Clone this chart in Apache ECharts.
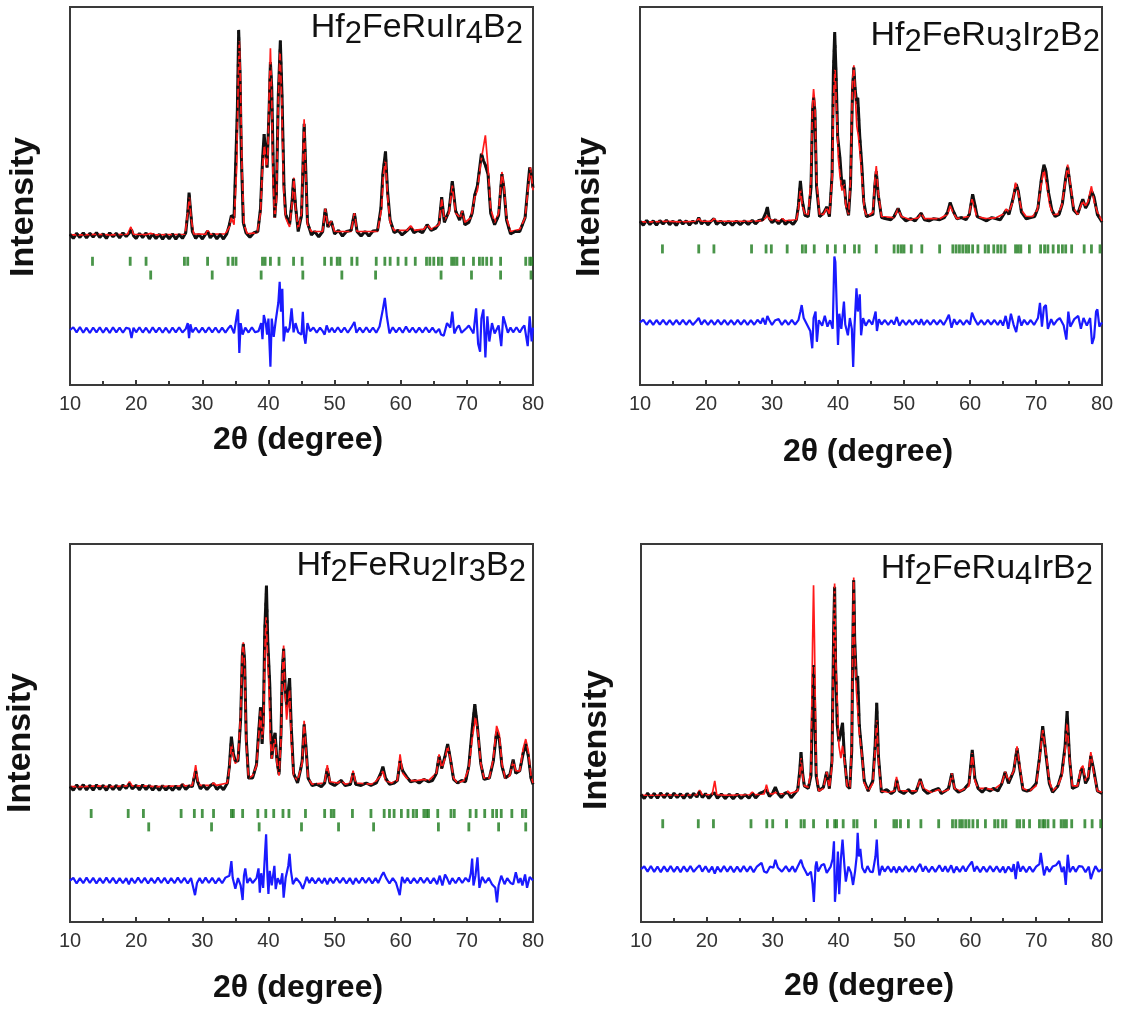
<!DOCTYPE html>
<html>
<head>
<meta charset="utf-8">
<script src="https://cdn.jsdelivr.net/npm/echarts@6/dist/echarts.min.js"></script>
<style>
  html, body { margin: 0; padding: 0; background: #ffffff; }
  #chart { width: 1125px; height: 1011px; }
</style>
</head>
<body>
<div id="chart"></div>
<script>
// 2θ axis ticks (degrees)
const twoThetaTicks = [10, 20, 30, 40, 50, 60, 70, 80];

// ---------- Hf2FeRuIr4B2 ----------
const obs1 = [[10,0.8],[10.5,-1],[11,1.2],[11.5,-0.6],[12,1.4],[12.5,-0.8],[13,1.2],[13.5,-0.4],[14,1.5],[14.5,-0.6],[15,1],[15.5,-1],[16,1.4],[16.5,-0.3],[17,1.2],[17.5,-0.8],[18,1.4],[18.5,-0.2],[19,1.5],[19.3,2.8],[19.6,0.2],[20,-1],[20.5,1.2],[21,-0.6],[21.5,1.4],[22,-1.2],[22.5,1],[23,-1.1],[23.5,0.8],[24,-1.3],[24.5,0.7],[25,-1.2],[25.5,0.9],[26,-1.3],[26.5,0.7],[27,-1],[27.5,1.5],[27.8,10],[28,19],[28.2,12],[28.5,2],[29,-1],[29.5,0.8],[30,-1.2],[30.5,0.9],[30.8,2.2],[31.2,-0.8],[31.7,1],[32.2,-1.2],[32.7,0.8],[33.2,-1.3],[33.7,1],[34.1,5],[34.4,9],[34.8,8],[35.1,36],[35.3,55],[35.5,90],[35.7,72],[35.9,36],[36.2,6],[36.6,1.5],[37.2,-0.5],[37.8,1.5],[38.4,2],[38.8,12],[39.1,33],[39.35,44.5],[39.6,36],[39.8,30],[40.1,55],[40.3,76],[40.5,65],[40.75,28],[40.95,8],[41.2,18],[41.5,62],[41.8,85.4],[42.05,62],[42.35,22],[42.6,9.5],[43.2,5],[43.6,16],[43.8,25],[44.1,13],[44.5,2],[45,9],[45.2,28],[45.4,49],[45.6,33],[45.9,6],[46.5,0.5],[47,2],[47.6,-0.3],[48.2,2],[48.6,12],[49,4],[49.5,6.5],[50,1],[50.6,2.5],[51.2,0],[51.8,2],[52.5,2.5],[53,10],[53.4,2],[54,0],[54.6,2],[55.2,0],[55.8,2.2],[56.5,2.5],[57,12],[57.3,27],[57.7,37],[58,20],[58.4,7],[59,1.5],[59.6,2.5],[60.2,0.5],[61,2.5],[61.5,4],[62,1.5],[62.6,2.5],[63.3,1.5],[64,5],[64.6,2.5],[65.3,3.5],[65.8,5.5],[66.2,17],[66.6,6],[67.3,11],[67.8,24],[68.3,11],[68.9,7],[69.3,11],[69.7,5],[70.3,6],[70.8,10],[71.2,18],[71.6,22],[72.2,36],[72.5,33],[72.8,31],[73.2,27],[73.6,10],[74.2,5],[74.8,9],[75.3,27],[75.6,21],[76,7],[76.6,1],[77.3,2],[78,2],[78.8,8],[79.3,24],[79.5,30],[79.8,26],[80,21]];
const calc1 = [[10,0.5],[12,0.5],[14,0.8],[16,0.5],[18.7,0.8],[19.2,4],[19.6,0.8],[21.5,0.6],[22.2,1.2],[23,0.5],[27.4,0.8],[27.8,10],[28.05,17],[28.3,8],[28.7,1],[30.5,0.8],[30.8,2.5],[31.2,0.8],[33.5,1],[34.1,4],[34.4,8],[34.8,5],[35.2,30],[35.45,70],[35.6,85],[35.75,70],[36,30],[36.3,5],[36.8,1],[38.3,1.5],[38.8,10],[39.1,30],[39.4,40],[39.7,30],[39.9,35],[40.1,60],[40.3,82],[40.5,60],[40.7,25],[40.95,8],[41.2,15],[41.5,60],[41.75,81],[42,60],[42.3,20],[42.6,8],[43.2,4],[43.6,15],[43.85,25.5],[44.1,12],[44.5,3],[45,10],[45.2,30],[45.4,51],[45.6,30],[45.9,5],[46.5,2],[48.2,2],[48.6,12],[49,4],[49.5,6.5],[50,2],[52.5,2],[53,10],[53.4,2],[56.5,2],[57.1,12],[57.4,27],[57.7,33],[58,18],[58.4,6],[59,2.5],[61,2.5],[61.5,4.5],[62,2.5],[63.5,3],[64,5],[64.6,3],[65.8,5],[66.2,16],[66.6,7],[67.3,10],[67.8,22],[68.3,10],[69,8],[69.3,11],[69.7,6],[70.6,8],[71.2,17],[71.6,20],[72.1,32],[72.8,44],[73.2,30],[73.6,12],[74.2,6],[74.8,10],[75.3,28],[75.6,22],[76,8],[76.6,2],[78,3],[78.8,8],[79.3,22],[79.6,30],[80,20]];
const diff1 = [[10,0],[10.5,1.2],[11,-1],[11.5,1.3],[12,-1.2],[12.5,1],[13,-1.3],[13.5,1.1],[14,-1],[14.5,1.2],[15,-1.2],[15.5,1],[16,-1.3],[16.5,1.2],[17,-1],[17.5,1.1],[18,-1.2],[18.5,1],[19,0.5],[19.3,-3.5],[19.6,1],[20,-1],[20.5,1.2],[21,-1.1],[21.5,1],[22,-1.3],[22.5,1.2],[23,-1],[23.5,1.1],[24,-1.2],[24.5,1],[25,-1.3],[25.5,1.1],[26,-1],[26.5,1.2],[27,-1.1],[27.5,0.5],[27.8,3],[28,-3.5],[28.2,2.5],[28.5,-1],[29,1.1],[29.5,-1.2],[30,1],[30.5,-1.1],[31,1.2],[31.5,-1],[32,1.1],[32.5,-1.2],[33,1],[33.5,-1.1],[34,1],[34.3,2],[34.8,-1.5],[35.2,6],[35.4,9],[35.6,-10],[35.8,3],[36.1,-2],[36.5,1],[37,-1.1],[37.5,1.2],[38,-1],[38.5,-0.5],[38.9,3],[39.1,-4],[39.3,6.5],[39.6,3],[39.8,-2],[40,5],[40.3,-16],[40.5,5],[40.8,-3],[41.1,4],[41.5,12],[41.7,21],[41.9,8],[42.1,18],[42.3,-5],[42.6,1.5],[42.9,-1],[43.2,1],[43.5,9.5],[43.8,-1],[44.1,3],[44.5,-1],[45,-2],[45.2,8],[45.4,-3],[45.6,-6],[45.9,3],[46.3,-0.5],[46.8,1.1],[47.3,-1.1],[47.8,1],[48.2,-0.5],[48.5,-2],[48.8,2],[49.2,-1],[49.6,1],[50,-1.1],[50.5,1.2],[51,-1],[51.5,1.1],[52,-1.2],[52.5,1],[53,3.5],[53.3,-1.2],[53.8,1],[54.3,-1.1],[54.8,1.2],[55.3,-1],[55.8,1.1],[56.3,-1.2],[56.8,1.5],[57.3,9],[57.6,14],[57.9,6],[58.3,-1.5],[58.8,1.2],[59.3,-1],[59.8,1.1],[60.3,-1.2],[60.8,1.5],[61.3,-1],[61.8,1.1],[62.3,-1.2],[62.8,1],[63.3,-1.1],[63.8,1.2],[64.3,-1],[64.8,1],[65.3,-1.2],[65.8,0.5],[66.1,-2],[66.5,-2.5],[67,3],[67.5,1],[67.8,8],[68.1,-1.5],[68.5,1],[68.8,2],[69.2,-1.2],[69.5,-1.5],[70,1],[70.3,2],[71,-1.5],[71.4,9.5],[71.7,-6],[72,-9.5],[72.2,5],[72.5,9],[72.8,-12],[73.1,6],[73.4,-5],[73.8,3],[74.2,-1.5],[74.8,2],[75.2,-7],[75.5,6],[75.8,3],[76.2,-1.2],[76.6,1.1],[77,-1],[77.5,1.2],[78,-1.1],[78.4,1],[78.7,2],[79.2,-7],[79.5,6],[79.8,-5],[80,1]];
const bragg1a = [13.4,19.1,21.5,27.3,27.8,30.8,33.9,34.6,35.1,39.1,39.5,40.3,41.6,43.8,45.1,48.5,49.5,50.4,50.8,52.6,53.4,56.3,57.6,58.4,59.6,60.8,62.2,63.9,64.4,65.0,65.7,66.2,67.7,68.1,68.5,69.5,71.0,71.9,72.4,73.0,73.7,75.1,78.9,79.5,79.8];
const bragg1b = [22.2,31.5,38.9,45.2,51.1,56.2,66.1,70.7,75.1,79.7];
const formula1 = [['Hf','2'],['FeRuIr','4'],['B','2']];

// ---------- Hf2FeRu3Ir2B2 ----------
const obs2 = [[10,0.8],[10.5,-1],[11,1.2],[11.5,-0.7],[12,1],[12.5,-1],[13,1.1],[13.5,-0.5],[14,1.3],[14.5,-0.8],[15,0.9],[15.5,-1.1],[16,1.2],[16.5,-0.4],[17,1],[17.5,-0.9],[18,0.9],[18.5,-0.3],[18.9,2.5],[19.3,-0.4],[19.8,1],[20.3,-0.8],[20.8,0.9],[21.2,2],[21.6,-0.6],[22.2,0.9],[22.8,-0.9],[23.4,0.8],[24,-1],[24.6,0.9],[25.2,-0.8],[25.8,1],[26.4,-0.7],[27,1.3],[27.5,-0.4],[28,1.2],[28.6,1.5],[29.1,5],[29.3,7.4],[29.6,2],[30,0.2],[30.5,1.5],[31,-0.4],[31.6,1.8],[32,-0.6],[32.6,1],[33.2,-0.7],[33.7,1.5],[34,8],[34.3,19.5],[34.6,10],[35,3.5],[35.5,3],[35.9,16],[36.15,52],[36.3,58],[36.5,52],[36.75,17],[37.2,3],[37.8,4.5],[38.3,7.4],[38.7,3],[39.1,22],[39.3,70],[39.5,88.4],[39.7,70],[39.95,40],[40.3,30],[40.6,17],[40.9,20],[41.2,9],[41.6,3.5],[41.9,18],[42.2,62],[42.4,72],[42.6,62],[42.85,55],[43,58],[43.3,40],[43.6,27],[43.9,10],[44.3,3],[45.3,4],[45.6,18],[45.8,24],[46.1,13],[46.6,2.5],[47.3,2],[48,1.5],[48.5,3],[49.1,6.8],[49.6,3],[50.3,1],[51,2],[51.7,1],[52.2,3],[52.6,4.5],[53.1,1.5],[53.8,1],[54.5,2],[55.4,1.5],[56.1,2.5],[56.6,5],[57,9.4],[57.4,6],[58,2],[58.7,2.5],[59.4,1.5],[59.9,4],[60.4,13.3],[60.7,9],[61.1,3],[61.8,2],[62.5,1],[63.3,2.5],[64,2],[64.6,1.5],[65.1,4],[65.5,6],[65.9,4],[66.5,11],[67,18],[67.3,15],[67.8,5],[68.5,2],[69.2,2.5],[69.8,3],[70.3,7],[70.8,20],[71.2,27],[71.5,24],[71.9,14],[72.4,6],[72.9,3],[73.5,4],[74,9],[74.5,21],[74.8,26],[75.2,17],[75.7,6],[76.3,4],[76.9,9.5],[77.1,11],[77.5,7],[77.9,9],[78.4,15],[78.8,12],[79.3,4],[79.7,2],[80,0.5]];
const calc2 = [[10,0.5],[12,0.5],[14,0.8],[16,0.5],[18.5,0.8],[18.9,2],[19.3,0.8],[20.8,0.8],[21.2,2],[21.6,0.8],[26.7,0.8],[27,1.5],[27.3,0.8],[28.6,1.2],[29.1,2.5],[29.3,3.5],[29.7,1.5],[31.2,1],[31.6,2],[32,1],[33.7,1.5],[34,6],[34.3,15.6],[34.6,8],[35,4],[35.5,4],[35.9,20],[36.15,55],[36.3,62],[36.5,55],[36.75,20],[37.2,4],[37.8,4],[38.3,7],[38.7,4],[39.1,20],[39.35,60],[39.55,71],[39.75,55],[40.05,30],[40.3,22],[40.6,15],[40.9,18],[41.2,8],[41.6,4],[41.9,20],[42.2,65],[42.4,73],[42.6,60],[42.85,45],[43.1,40],[43.4,30],[43.7,18],[44,6],[44.4,3],[45.3,5],[45.6,20],[45.8,26.4],[46.1,14],[46.6,3],[48.5,2.5],[49.1,6.5],[49.6,3],[51,1.5],[52.2,2.5],[52.6,4.5],[53.1,2],[55.4,2],[56.6,4],[57,8],[57.4,5],[58,2],[59.8,3],[60.3,11],[60.6,8],[61,3],[62.5,2],[64,2.5],[65,4],[65.5,6.5],[65.9,5],[66.5,10],[66.9,18.7],[67.3,14],[67.8,6],[68.5,3],[69.5,3],[70.2,6],[70.8,18],[71.2,25],[71.6,18],[72.1,8],[72.6,4],[73.3,4],[73.9,8],[74.5,20],[74.8,27],[75.2,18],[75.7,7],[76.3,4],[76.8,8],[77.1,10],[77.5,8],[77.9,10],[78.4,17],[78.8,10],[79.3,5],[80,1]];
const diff2 = [[10,0],[10.5,1.2],[11,-1.1],[11.5,1],[12,-1.2],[12.5,1.1],[13,-1],[13.5,1.2],[14,-1.1],[14.5,1],[15,-1.2],[15.5,1.1],[16,-1],[16.5,1.2],[17,-1.1],[17.5,1],[18,-1.2],[18.5,0.5],[18.9,2],[19.3,-1],[19.8,1.1],[20.3,-1.2],[20.8,1],[21.3,-1.1],[21.8,1.2],[22.3,-1],[22.8,1.1],[23.3,-1.2],[23.8,1],[24.3,-1.1],[24.8,1.2],[25.3,-1],[25.8,1.1],[26.3,-1.2],[26.8,1],[27.3,-1.1],[27.8,1.2],[28.3,-0.5],[28.6,2],[29,-1],[29.3,3],[29.6,1],[30,-1.2],[30.5,1],[31,1.5],[31.5,-1.2],[32,1],[32.5,-1.1],[33,1.2],[33.5,-1],[34,1],[34.3,5],[34.5,8],[34.8,2],[35.3,-1],[35.8,-4],[36.1,-12],[36.3,2],[36.6,5],[36.8,-9],[37.1,1],[37.6,-1.5],[38,3],[38.4,-2],[38.8,1],[39.2,-3],[39.45,30.5],[39.6,28],[39.8,8],[40,-10.5],[40.2,4],[40.5,-3],[40.9,9.6],[41.1,-1],[41.5,-6],[41.8,2],[42.1,-3],[42.3,-20.6],[42.5,-2],[42.8,15.8],[43,5],[43.3,13],[43.5,-6],[43.8,2],[44.2,-1.5],[44.7,1.2],[45.2,-1],[45.5,-1.5],[45.7,5],[45.9,-4],[46.2,1.5],[46.6,-1],[47.1,1.1],[47.6,-1.2],[48.1,1],[48.5,-1],[48.9,2.5],[49.3,-1.5],[49.8,1.1],[50.3,-1.2],[50.8,1],[51.3,-1.1],[51.8,1.2],[52.3,-1],[52.6,1.5],[53,-1.2],[53.5,1],[54,-1.1],[54.5,1.2],[55,-1],[55.5,1.1],[56,-1.2],[56.4,1],[56.8,3.5],[57.2,-2.5],[57.6,1.5],[58,-1],[58.5,1.1],[59,-1.2],[59.5,1],[60,-1],[60.3,4.5],[60.7,1.5],[61.2,-1.2],[61.7,1],[62.2,-1.1],[62.7,1.2],[63.2,-1],[63.7,1.1],[64.2,-1.2],[64.6,1],[65,-1.5],[65.4,3],[65.8,-3],[66.2,4],[66.6,-1],[67,-4.5],[67.4,3],[67.8,-1.5],[68.2,1.2],[68.7,-1],[69.2,1.1],[69.7,-1.2],[70.3,2],[70.6,9],[70.9,-2],[71.2,7],[71.5,8],[71.8,-3],[72.3,1.5],[72.7,-1.2],[73.2,1],[73.6,2],[74.2,-1.5],[74.6,-8],[74.9,5],[75.2,-2],[75.8,1.5],[76.4,3],[76.8,-3],[77.2,2],[77.7,-1.5],[78.2,2],[78.5,-10],[78.8,-7],[79.1,5],[79.3,6],[79.6,-2],[80,0]];
const bragg2a = [13.4,18.9,21.2,26.9,29.1,29.9,32.3,34.6,35.1,36.4,38.4,39.6,41.0,42.5,43.2,45.8,48.5,49.1,49.6,50.0,51.1,52.7,55.4,57.4,57.9,58.4,58.9,59.4,59.8,60.4,61.2,62.3,62.8,63.6,64.2,64.7,65.3,66.9,67.3,67.7,69.0,70.7,71.3,71.8,72.6,73.4,74.0,74.5,75.4,77.3,78.4,79.7];
const formula2 = [['Hf','2'],['FeRu','3'],['Ir','2'],['B','2']];

// ---------- Hf2FeRu2Ir3B2 ----------
const obs3 = [[10,0.6],[10.5,-1],[11,1.2],[11.5,-0.7],[12,1.3],[12.5,-0.8],[13,1],[13.5,-0.9],[14,1.2],[14.5,-0.6],[15,1],[15.5,-1],[16,1.1],[16.5,-0.7],[17,1],[17.5,-0.8],[18,1.1],[18.5,-0.2],[19,1.8],[19.4,-0.4],[20,1],[20.5,-0.8],[21,1.2],[21.5,-0.7],[22,1],[22.5,-0.9],[23,0.8],[23.5,-1],[24,0.9],[24.5,-0.9],[25,0.7],[25.5,-1],[26,0.8],[26.5,-0.7],[27,1.4],[27.5,-0.6],[28,0.8],[28.5,0.5],[28.75,4],[29,7],[29.3,2.5],[29.7,-0.4],[30.2,1],[30.7,-0.7],[31.2,0.9],[31.7,1.8],[32.2,-0.6],[32.7,0.8],[33.2,-0.8],[33.8,2],[34.1,9],[34.4,21],[34.7,14],[35,11],[35.4,11],[35.8,28],[36.05,54],[36.2,59],[36.4,52],[36.65,20],[37,4],[37.6,4],[38.2,9.6],[38.5,22],[38.8,33],[39.05,18],[39.25,30],[39.45,65],[39.7,83],[39.9,60],[40.2,42.6],[40.5,12],[40.8,20],[41,22.6],[41.3,11],[41.6,5.5],[41.9,22],[42.1,48],[42.3,57],[42.55,40],[42.8,33],[43,40],[43.2,45],[43.45,25],[43.8,6],[44.4,2],[44.9,8],[45.1,11],[45.4,26],[45.7,16],[46,4],[46.6,1],[47.3,1.5],[48,0.5],[48.5,2],[48.9,8],[49.3,2],[50,1],[50.5,2],[51,3],[51.6,1],[52.4,1.5],[52.8,6],[53.2,1.5],[54,1],[54.8,2],[55.5,1],[56.3,2],[57,6],[57.3,8.7],[57.7,4],[58.3,1.5],[59,2],[59.5,3],[59.9,11],[60.3,7],[60.9,4.5],[61.5,2.5],[62.2,3],[62.8,2],[63.5,3.5],[64.2,2.5],[64.8,3],[65.4,6],[65.8,13],[66.2,8],[66.7,13],[67.1,18],[67.5,12],[68,3.5],[68.6,2],[69.2,3],[69.8,2.5],[70.3,9],[70.8,24],[71.2,34.3],[71.6,25],[72.1,10],[72.6,3.5],[73.4,4],[74,11],[74.5,23],[74.9,20],[75.3,9],[75.8,4],[76.5,5.5],[77,11.6],[77.4,6],[78,7],[78.5,14],[78.9,18],[79.3,13],[79.7,4],[80,1.5]];
const calc3 = [[10,0.5],[12,0.5],[14,0.8],[16,0.5],[18.6,0.8],[19,2.5],[19.4,0.8],[21,0.8],[23,0.5],[26.6,0.8],[27,1.5],[27.4,0.8],[28.5,1],[28.75,5],[29,9.3],[29.3,3],[29.7,1],[31.3,1],[31.7,2],[32.1,1],[33.8,2],[34.1,8],[34.4,18],[34.7,13],[35,10],[35.4,12],[35.8,30],[36.05,55],[36.2,59.7],[36.4,50],[36.65,18],[37,4],[37.6,5],[38.2,9],[38.5,20],[38.8,31.6],[39.05,20],[39.25,25],[39.45,55],[39.65,70],[39.85,55],[40.1,40],[40.3,20],[40.5,12],[40.8,18],[41,20],[41.3,10],[41.6,5],[41.9,20],[42.1,45],[42.3,58.4],[42.5,40],[42.75,28],[43,35],[43.2,40],[43.45,20],[43.8,5],[44.4,3],[44.9,8],[45.1,10],[45.4,27.5],[45.7,15],[46,4],[46.6,1.5],[48.5,2],[48.9,9.3],[49.3,2.5],[50.5,2],[51,3],[51.6,1.5],[52.4,2],[52.8,7],[53.2,2],[55.5,1.5],[56,2],[57,5],[57.3,7],[57.7,3],[58.6,2],[59.5,3],[59.9,13.7],[60.3,6],[60.9,4],[61.5,3],[62.5,3],[63.5,3.5],[64.2,3],[65.4,6],[65.8,13.7],[66.2,8],[66.7,12],[67.1,17],[67.5,12],[68,4],[68.6,2],[69.6,3],[70.3,8],[70.8,20],[71.3,29],[71.7,22],[72.1,10],[72.6,4],[73.4,4],[74,12],[74.5,25.4],[74.9,22],[75.3,10],[75.8,4],[76.5,5],[77,11],[77.4,7],[78,7],[78.5,16],[78.9,20],[79.3,15],[79.7,5],[80,2]];
const diff3 = [[10,0],[10.5,1.1],[11,-1.2],[11.5,1],[12,-1.1],[12.5,1.2],[13,-1],[13.5,1.1],[14,-1.2],[14.5,1],[15,-1.1],[15.5,1.2],[16,-1],[16.5,1.1],[17,-1.2],[17.5,1],[18,-1.1],[18.5,1],[18.9,-1.5],[19.3,1],[19.8,-1.1],[20.3,1.2],[20.8,-1],[21.3,1.1],[21.8,-1.2],[22.3,1],[22.8,-1.1],[23.3,1.2],[23.8,-1],[24.3,1.1],[24.8,-1.2],[25.3,1],[25.8,-1.1],[26.3,1.2],[26.8,-1],[27.3,1.1],[27.8,-1.2],[28.3,1],[28.6,1.5],[28.9,-6],[29.2,-1],[29.6,1],[30,-1.1],[30.5,1.2],[31,-1],[31.5,1.1],[32,-1.2],[32.5,1],[33,-1.1],[33.5,1.2],[34.1,2],[34.4,8],[34.6,1],[35,-3.4],[35.4,1],[35.8,-2],[36.1,-8],[36.3,2],[36.5,5],[36.8,-1],[37.2,1],[37.6,-1],[38.2,1],[38.5,5],[38.7,-5],[38.9,3],[39.2,-3],[39.5,12],[39.65,19],[39.85,2],[40,-5.5],[40.2,4],[40.5,-2],[40.9,6],[41.1,-3.5],[41.4,1],[41.8,-1.5],[42.1,3],[42.3,-7],[42.6,1],[43,6],[43.2,11],[43.4,4],[43.7,-1.5],[44.2,1],[44.8,-1],[45.2,-3.4],[45.5,-1],[45.8,1.5],[46.2,-1],[46.6,1.1],[47.1,-1.2],[47.6,1],[48.1,-1.1],[48.5,1],[48.9,-1.5],[49.3,1],[49.8,-1.1],[50.3,1.2],[50.8,-1],[51.3,1.1],[51.8,-1.2],[52.3,1],[52.8,-1.5],[53.2,1],[53.7,-1.1],[54.2,1.2],[54.7,-1],[55.2,1.1],[55.7,-1.2],[56.2,1],[56.6,-1],[57.1,2],[57.4,3.4],[57.8,1],[58.3,-1.2],[58.8,1],[59.3,-1],[59.6,-1.5],[59.85,-6],[60.2,1.5],[60.6,-1],[61,1.1],[61.5,-1.2],[62,1],[62.5,-1.1],[63,1.2],[63.5,-1],[64,1.1],[64.5,-1.2],[65,1],[65.5,-1.5],[65.9,2],[66.3,-2],[66.7,2.5],[67,1],[67.4,-1.5],[67.8,1],[68.3,-1.1],[68.8,1.2],[69.3,-1],[69.8,1.1],[70.3,-0.5],[70.6,3],[70.8,9],[71,-2],[71.3,2],[71.6,9.5],[71.9,-3],[72.3,1.5],[72.8,-1],[73.3,1.1],[73.8,-1.5],[74.3,-3],[74.55,-9],[74.8,-2],[75.2,2],[75.7,-1.5],[76.1,1],[76.6,-1],[77,-1.5],[77.4,3.4],[77.8,-1],[78.1,1],[78.4,-2],[78.8,2.5],[79.1,-3],[79.5,1.5],[80,0]];
const bragg3a = [13.2,18.8,21.1,26.8,28.8,30.0,31.7,34.4,34.7,36.1,38.4,39.6,40.8,42.2,43.1,45.6,48.5,49.5,49.9,52.7,55.5,57.5,58.3,59.0,60.1,61.1,61.9,62.4,63.5,63.9,64.2,65.6,67.6,68.1,70.5,71.4,72.7,73.9,74.5,75.2,76.8,78.4,78.9];
const bragg3b = [21.9,31.4,38.6,45.0,50.6,55.9,65.7,70.3,74.8,78.9];
const formula3 = [['Hf','2'],['FeRu','2'],['Ir','3'],['B','2']];

// ---------- Hf2FeRu4IrB2 ----------
const obs4 = [[10,0.6],[10.5,-1],[11,1.1],[11.5,-0.8],[12,1],[12.5,-0.9],[13,1.2],[13.5,-0.7],[14,1],[14.5,-0.9],[15,1.1],[15.5,-0.6],[16,0.9],[16.5,-1],[17,1],[17.5,-0.7],[18,1],[18.5,-0.4],[18.9,1.8],[19.3,-0.6],[19.8,0.9],[20.3,-0.9],[20.8,0.8],[21.2,1.2],[21.6,-0.9],[22.2,0.8],[22.8,-1],[23.4,0.7],[24,-1.1],[24.6,0.8],[25.2,-1],[25.8,0.6],[26.4,-0.9],[26.9,1.2],[27.4,-0.8],[28,1],[28.5,1.5],[29.05,2.5],[29.5,-0.2],[30,1.2],[30.4,3.5],[30.8,1],[31.3,-0.6],[31.8,1],[32.3,1.5],[32.8,-0.7],[33.3,0.9],[33.8,2.5],[34.1,10],[34.3,17.4],[34.55,9],[34.8,4],[35.4,3],[35.8,8],[36.05,35],[36.2,52],[36.35,38],[36.6,8],[37,2],[37.7,3.5],[38.2,9.6],[38.6,3],[39,14],[39.25,65],[39.4,83],[39.55,52],[39.8,28],[40.05,21.7],[40.35,22],[40.6,29],[40.9,15],[41.3,4],[41.7,3],[42,18],[42.15,58],[42.3,85.6],[42.45,62],[42.7,46],[42.9,47.6],[43.15,28],[43.6,15],[43.9,6],[44.5,2],[45.2,6],[45.55,20],[45.8,37],[46.05,16],[46.5,1.5],[47.3,2.5],[48,1],[48.5,2],[48.8,6.5],[49.2,2],[49.9,1],[50.6,2.5],[51.2,1],[51.8,2],[52.4,6.7],[52.9,2.5],[53.5,1],[54.2,2],[55.2,3],[55.6,1],[56.2,2],[56.7,3],[57.2,9],[57.6,3],[58.2,1.5],[59,2.5],[59.8,5],[60.3,18.3],[60.7,7],[61.2,3],[61.8,1.5],[62.3,3],[63,2],[63.5,3],[64.2,2],[64.8,5],[65.3,9.6],[65.8,5],[66.6,10],[67.1,19],[67.5,11],[68,2.5],[68.6,2],[69.2,2.5],[70,5],[70.5,15],[71,27.7],[71.5,16],[72,5],[72.5,1.5],[73.3,4],[73.9,9],[74.4,20],[74.7,33.7],[75.1,14],[75.5,3],[76.3,4],[76.8,10],[77.1,11],[77.5,5],[77.9,7],[78.3,16],[78.7,11],[79.3,2],[80,1]];
const calc4 = [[10,0.3],[12,0.3],[14,0.5],[16,0.3],[18.5,0.5],[18.9,2.3],[19.3,0.5],[20.8,0.5],[21.2,6],[21.5,0.5],[23,0.3],[26.5,0.5],[26.9,1.5],[27.3,0.5],[28.7,0.8],[29.05,4.5],[29.4,1],[30,0.8],[30.4,1.5],[30.8,0.8],[32,1],[32.3,2],[32.6,1],[33.8,2],[34.1,8],[34.3,15],[34.55,8],[34.8,4],[35.4,3.5],[35.8,10],[36.05,60],[36.2,83.6],[36.35,60],[36.6,10],[37,2],[37.7,3],[38.2,9.6],[38.6,3],[39,12],[39.25,60],[39.4,84.3],[39.55,55],[39.8,37.5],[40.05,20],[40.35,15],[40.6,20],[40.9,14],[41.3,4],[41.7,3],[42,20],[42.15,60],[42.3,86.7],[42.45,60],[42.7,42],[42.9,41.6],[43.15,25],[43.6,15],[43.9,5],[44.5,2],[45.2,5],[45.55,18],[45.8,30],[46.05,14],[46.5,2],[47.5,1.5],[48.5,2],[48.8,7.6],[49.2,2],[50.6,2],[51.8,2],[52.4,6.7],[52.9,3],[54,1.5],[55.2,2.5],[55.6,1.5],[56.7,2.5],[57.2,9],[57.6,3],[58.5,2],[59.8,4],[60.3,17],[60.7,6],[61.2,3],[62.3,3],[63.5,2.5],[64.8,5],[65.3,9.6],[65.8,6],[66.6,10],[67.1,19.7],[67.5,12],[68,3],[69,2],[70,4],[70.5,14],[71,26.3],[71.5,17],[72,6],[72.5,2],[73.3,4],[73.9,8],[74.4,18],[74.7,29],[75.1,14],[75.5,4],[76.3,4],[76.8,11],[77.1,12],[77.5,6],[77.9,8],[78.3,17.4],[78.7,10],[79.3,2],[80,1.5]];
const diff4 = [[10,0],[10.5,1.1],[11,-1],[11.5,1.2],[12,-1.1],[12.5,1],[13,-1.2],[13.5,1.1],[14,-1],[14.5,1.2],[15,-1.1],[15.5,1],[16,-1.2],[16.5,1.1],[17,-1],[17.5,1.2],[18,-1.1],[18.5,0.5],[18.9,1.5],[19.3,-1],[19.8,1.1],[20.3,-1.2],[20.8,1],[21.2,-1.8],[21.6,1],[22.1,-1.1],[22.6,1.2],[23.1,-1],[23.6,1.1],[24.1,-1.2],[24.6,1],[25.1,-1.1],[25.6,1.2],[26.1,-1],[26.6,1.1],[27.1,-1.2],[27.6,1],[28.3,2.5],[28.7,-1],[29.1,-1.5],[29.6,1],[30.1,0.5],[30.4,3.7],[30.8,0.5],[31.4,-1],[32,1.2],[32.5,-1],[33,1.1],[33.4,-1.2],[33.8,1],[34.3,3.7],[34.6,1],[35,-1],[35.3,-2.5],[35.8,-1],[36.05,-6],[36.25,-13],[36.5,1],[36.65,3],[36.9,-1],[37.4,1.5],[37.8,2],[38.2,-1.5],[38.8,1],[39.1,4],[39.3,11],[39.45,-13],[39.7,-4],[39.9,7],[40.1,-10],[40.35,4],[40.6,11.7],[40.9,1],[41.1,-5],[41.5,1],[41.9,-1.5],[42.2,-6.3],[42.5,-1],[42.75,5],[42.9,14.4],[43.1,5],[43.3,8],[43.6,0.5],[44,-1.5],[44.4,1.2],[44.8,-1],[45.2,-1.2],[45.6,5],[45.8,11.7],[46,2],[46.2,-2.5],[46.6,1.2],[47,-1],[47.5,1.1],[48,-1.2],[48.4,1],[48.8,-1.5],[49.2,1],[49.7,-1.1],[50.2,1.2],[50.7,-1],[51.2,1.1],[51.7,-1.2],[52.1,1],[52.4,2],[52.8,-1],[53.2,1.1],[53.7,-1.2],[54.2,1],[54.7,-1.1],[55.3,1.5],[55.8,-1],[56.2,1.1],[56.6,-1.2],[57.1,1.5],[57.5,-1.5],[57.9,1],[58.4,-1.1],[58.9,1.2],[59.3,-1],[59.7,1],[60.25,3],[60.6,-1],[61,1.1],[61.5,-1.2],[62,1],[62.5,-1.1],[63,1.2],[63.5,-1],[64,1.1],[64.5,-1.2],[65,1],[65.3,-1.5],[65.8,1],[66.3,-1],[66.6,2],[66.9,-4],[67.2,3],[67.6,-1],[68,1.1],[68.5,-1.2],[69,1],[69.5,-1.1],[70,1],[70.5,2],[70.7,6.4],[71,1],[71.2,-2.5],[71.6,1],[72,-1.1],[72.5,1],[73,1.5],[73.5,3.2],[73.9,-1.2],[74.2,1],[74.5,-6.3],[74.8,5.7],[75.1,-1.2],[75.6,1],[76,-1.1],[76.5,1.2],[77,1],[77.5,-1.2],[78,1],[78.3,-4],[78.6,-1.5],[79,1.2],[79.5,-1],[80,0]];
const bragg4a = [13.3,18.7,21.0,26.7,29.1,30.0,32.1,34.3,34.8,36.2,38.3,39.4,39.7,40.7,42.3,42.8,45.6,48.4,48.8,49.4,50.6,52.5,55.2,57.3,57.8,58.4,58.8,59.3,59.8,60.4,61.1,62.3,63.7,64.2,64.9,65.4,67.1,67.5,68.1,69.0,70.5,71.0,71.3,71.8,72.7,73.8,74.2,74.6,75.4,77.4,78.5,79.8];
const formula4 = [['Hf','2'],['FeRu','4'],['IrB','2']];

// ---------- layout ----------
const FONT = '"Liberation Sans", Arial, Helvetica, sans-serif';
const FRAME = '#3a3a3a';

const panels = [
  { obs: obs1, calc: calc1, diff: diff1, bragg: [bragg1a, bragg1b], formula: formula1,
    grid: { left: 70, top: 7, width: 463, height: 378 }, yMin: -65, diffOffset: -41, braggRows: [-11, -17],
    titleRight: 602, titleTop: 11, yName: [24, 207], xName: [298, 440] },
  { obs: obs2, calc: calc2, diff: diff2, bragg: [bragg2a], formula: formula2,
    grid: { left: 640, top: 7, width: 462, height: 378 }, yMin: -75, diffOffset: -46, braggRows: [-12],
    titleRight: 25, titleTop: 19, yName: [590, 207], xName: [868, 452] },
  { obs: obs3, calc: calc3, diff: diff3, bragg: [bragg3a, bragg3b], formula: formula3,
    grid: { left: 70, top: 544, width: 463, height: 378 }, yMin: -55, diffOffset: -38, braggRows: [-10.5, -16],
    titleRight: 599, titleTop: 549, yName: [21, 743], xName: [298, 988] },
  { obs: obs4, calc: calc4, diff: diff4, bragg: [bragg4a], formula: formula4,
    grid: { left: 641, top: 544, width: 461, height: 378 }, yMin: -50, diffOffset: -29, braggRows: [-11],
    titleRight: 32, titleTop: 552, yName: [597, 740], xName: [869, 986] }
];

const series = [];
panels.forEach((p, i) => {
  const axes = { xAxisIndex: i, yAxisIndex: i, symbol: 'none', silent: true };
  // observed trace, calculated profile over it, then sparse observed marks on top
  series.push(Object.assign({ type: 'line', data: p.obs, lineStyle: { color: '#111111', width: 3 }, z: 2 }, axes));
  series.push(Object.assign({ type: 'line', data: p.calc, lineStyle: { color: '#ff1a1a', width: 1.7 }, z: 3 }, axes));
  series.push(Object.assign({ type: 'line', data: p.obs, lineStyle: { color: '#111111', width: 2.4, type: [3, 8] }, z: 4 }, axes));
  series.push(Object.assign({
    type: 'line', data: p.diff.map(([x, v]) => [x, v + p.diffOffset]),
    lineStyle: { color: '#1a1aff', width: 2.2 }, z: 3
  }, axes));
  p.bragg.forEach((row, k) => {
    series.push({
      type: 'scatter', xAxisIndex: i, yAxisIndex: i, silent: true,
      data: row.map(x => [x, p.braggRows[k]]),
      symbol: 'rect', symbolSize: [2.8, 9],
      itemStyle: { color: '#1c7a1c' }, z: 5
    });
  });
});

const richFormula = {
  m: { fontFamily: FONT, fontSize: 34, fontWeight: 'normal', color: '#111', lineHeight: 36, verticalAlign: 'top' },
  s: { fontFamily: FONT, fontSize: 31, fontWeight: 'normal', color: '#111', lineHeight: 36, verticalAlign: 'top', padding: [8, 0, 0, 0] }
};

const graphics = [];
panels.forEach(p => {
  graphics.push({
    type: 'text', x: p.yName[0], y: p.yName[1], rotation: Math.PI / 2,
    style: { text: 'Intensity', font: 'bold 34px ' + FONT, fill: '#111', align: 'center', verticalAlign: 'middle' }
  });
  graphics.push({
    type: 'text', x: p.xName[0], y: p.xName[1],
    style: { text: '2θ (degree)', font: 'bold 32px ' + FONT, fill: '#111', align: 'center', verticalAlign: 'middle' }
  });
});

const option = {
  animation: false,
  backgroundColor: '#ffffff',
  title: panels.map(p => ({
    text: p.formula.map(([main, sub]) => `{m|${main}}{s|${sub}}`).join(''),
    right: p.titleRight, top: p.titleTop, padding: 0,
    textStyle: { fontWeight: 'normal', rich: richFormula }
  })),
  grid: panels.map(p => Object.assign({}, p.grid, {
    show: true, borderColor: FRAME, borderWidth: 2, backgroundColor: 'transparent'
  })),
  xAxis: panels.map((p, i) => ({
    type: 'value', gridIndex: i,
    min: twoThetaTicks[0], max: twoThetaTicks[twoThetaTicks.length - 1],
    interval: twoThetaTicks[1] - twoThetaTicks[0],
    axisLine: { show: true, onZero: false, lineStyle: { color: FRAME, width: 2 } },
    axisTick: { show: true, inside: true, length: 5, lineStyle: { color: FRAME, width: 2 } },
    minorTick: { show: true, splitNumber: 2, length: 4, lineStyle: { color: FRAME, width: 2 } },
    axisLabel: { fontFamily: FONT, fontSize: 20, color: '#333', margin: 9 },
    splitLine: { show: false }
  })),
  yAxis: panels.map((p, i) => ({
    type: 'value', gridIndex: i, min: p.yMin, max: 100,
    axisLine: { show: false }, axisTick: { show: false },
    axisLabel: { show: false }, splitLine: { show: false }
  })),
  graphic: graphics,
  series: series
};

const chart = echarts.init(document.getElementById('chart'), null, { renderer: 'canvas' });
chart.setOption(option);
</script>
</body>
</html>
